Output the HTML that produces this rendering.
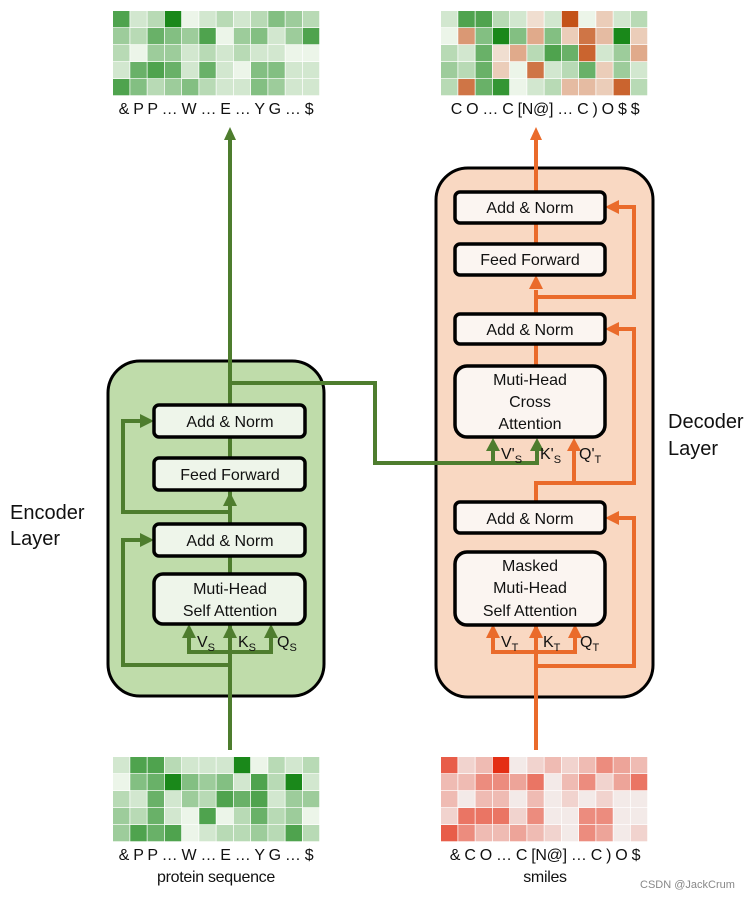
<!DOCTYPE html>
<html><head><meta charset="utf-8"><style>
html,body{margin:0;padding:0;background:#fff}
svg{display:block}
text{font-family:"Liberation Sans",Arial,sans-serif;fill:#111}
</style></head><body>
<svg id="s" width="756" height="898" viewBox="0 0 756 898" xmlns="http://www.w3.org/2000/svg">
<g id="hm"></g>
<rect x="108" y="361" width="216" height="335" rx="32" fill="#bfdcaa" stroke="#000" stroke-width="3"/>
<rect x="436" y="168" width="217" height="529" rx="32" fill="#f9d8c2" stroke="#000" stroke-width="3"/>

<g fill="none" stroke="#4e7d2e" stroke-width="4">
<path d="M230 750 V140"/>
<path d="M230 665 H123 V540 H140"/>
<path d="M230 512 H123 V421 H140"/>
<path d="M189 637 V652 H271 V637"/>
<path d="M230 383 H375 V463 H537 V450"/>
<path d="M493 463 V450"/>
</g>
<g fill="#4e7d2e">
<polygon points="224,140 236,140 230,127"/>
<polygon points="140,414 140,428 154,421"/>
<polygon points="140,533 140,547 154,540"/>
<polygon points="223,506 237,506 230,492"/>
<polygon points="182,638 196,638 189,624"/>
<polygon points="223,638 237,638 230,624"/>
<polygon points="264,638 278,638 271,624"/>
<polygon points="486,451 500,451 493,438"/>
<polygon points="530,451 544,451 537,438"/>
</g>

<g fill="none" stroke="#ea6b2b" stroke-width="4">
<path d="M536 750 V552"/>
<path d="M536 533 V483 H634 V329 H618"/>
<path d="M574 483 V450"/>
<path d="M536 366 V343"/>
<path d="M536 313 V290"/>
<path d="M536 297 H634 V207 H618"/>
<path d="M536 243 V223"/>
<path d="M536 191 V140"/>
<path d="M536 666 H634 V518 H618"/>
<path d="M493 637 V652 H575 V637"/>
</g>
<g fill="#ea6b2b">
<polygon points="530,140 542,140 536,127"/>
<polygon points="529,289 543,289 536,275"/>
<polygon points="619,200 619,214 605,207"/>
<polygon points="619,322 619,336 605,329"/>
<polygon points="619,511 619,525 605,518"/>
<polygon points="567,451 581,451 574,438"/>
<polygon points="486,638 500,638 493,624"/>
<polygon points="529,638 543,638 536,624"/>
<polygon points="568,638 582,638 575,624"/>
</g>

<g stroke="#000" stroke-width="3.5">
<rect x="154" y="405" width="151" height="32" rx="5" fill="#eef5ea"/>
<rect x="154" y="458" width="151" height="32" rx="5" fill="#eef5ea"/>
<rect x="154" y="524" width="151" height="32" rx="5" fill="#eef5ea"/>
<rect x="154" y="574" width="151" height="50" rx="9" fill="#eef5ea"/>
<rect x="455" y="192" width="150" height="31" rx="5" fill="#fbf5f1"/>
<rect x="455" y="244" width="150" height="31" rx="5" fill="#fbf5f1"/>
<rect x="455" y="314" width="150" height="30" rx="5" fill="#fbf5f1"/>
<rect x="455" y="366" width="150" height="71" rx="12" fill="#fbf5f1"/>
<rect x="455" y="502" width="150" height="31" rx="5" fill="#fbf5f1"/>
<rect x="455" y="552" width="150" height="73" rx="12" fill="#fbf5f1"/>
</g>
<g font-size="16" text-anchor="middle">
<text x="230" y="427">Add &amp; Norm</text>
<text x="230" y="480">Feed Forward</text>
<text x="230" y="546">Add &amp; Norm</text>
<text x="230" y="594">Muti-Head</text>
<text x="230" y="616">Self Attention</text>
<text x="530" y="213">Add &amp; Norm</text>
<text x="530" y="265">Feed Forward</text>
<text x="530" y="335">Add &amp; Norm</text>
<text x="530" y="385">Muti-Head</text>
<text x="530" y="407">Cross</text>
<text x="530" y="429">Attention</text>
<text x="530" y="524">Add &amp; Norm</text>
<text x="530" y="571">Masked</text>
<text x="530" y="593">Muti-Head</text>
<text x="530" y="616">Self Attention</text>
</g>
<g font-size="16">
<text x="197" y="647">V<tspan font-size="11" dy="4">S</tspan></text>
<text x="238" y="647">K<tspan font-size="11" dy="4">S</tspan></text>
<text x="277" y="647">Q<tspan font-size="11" dy="4">S</tspan></text>
<text x="501" y="647">V<tspan font-size="11" dy="4">T</tspan></text>
<text x="543" y="647">K<tspan font-size="11" dy="4">T</tspan></text>
<text x="580" y="647">Q<tspan font-size="11" dy="4">T</tspan></text>
<text x="501" y="459">V'<tspan font-size="11" dy="4">S</tspan></text>
<text x="540" y="459">K'<tspan font-size="11" dy="4">S</tspan></text>
<text x="579" y="459">Q'<tspan font-size="11" dy="4">T</tspan></text>
</g>
<g font-size="20">
<text x="10" y="519">Encoder</text>
<text x="10" y="545">Layer</text>
<text x="668" y="428">Decoder</text>
<text x="668" y="455">Layer</text>
</g>
<g font-size="16" text-anchor="middle" letter-spacing="-0.3">
<text x="216" y="114">&amp; P P … W … E …  Y G  … $</text>
<text x="545" y="114">C O … C [N@] … C ) O $ $</text>
<text x="216" y="860">&amp; P P … W … E …  Y G  … $</text>
<text x="216" y="882">protein sequence</text>
<text x="545" y="860">&amp; C O … C [N@] … C ) O $</text>
<text x="545" y="882">smiles</text>
</g>
<text x="640" y="888" font-size="11" style="fill:#888">CSDN @JackCrum</text>
</svg>
<script>
(function(){
var g=document.getElementById('hm');var ns='http://www.w3.org/2000/svg';
function lerp(a,b,t){return Math.round(a+(b-a)*t);}
function col(scale,v){var c0,c1;
 if(scale=='g'){c0=[236,245,233];c1=[26,136,26];}
 else if(scale=='o'){c0=[240,222,208];c1=[196,82,24];}
 else {c0=[243,234,232];c1=[228,46,20];}
 var t=(v-1)/8;return 'rgb('+lerp(c0[0],c1[0],t)+','+lerp(c0[1],c1[1],t)+','+lerp(c0[2],c1[2],t)+')';}
function draw(x,y,data,scale){
 for(var r=0;r<5;r++){for(var c=0;c<12;c++){var d=data[r][c],sc=scale,v=d;
  if(typeof d=='string'){sc=d[0];v=+d.slice(1);}
  var e=document.createElementNS(ns,'rect');
  e.setAttribute('x',x+c*17.25);e.setAttribute('y',y+r*17);
  e.setAttribute('width',16.5);e.setAttribute('height',16.3);
  e.setAttribute('fill',col(sc,v));g.appendChild(e);}}}
draw(113,11,[[7,2,3,9,1,2,3,2,3,5,4,3],[4,3,6,5,4,7,1,4,5,2,4,7],[3,1,4,4,2,3,2,3,2,2,1,1],[2,6,7,6,2,6,2,1,5,5,2,2],[7,5,3,4,5,3,2,2,5,4,2,2]],'g');
draw(441,11,[['g2','g7','g7','g3','g2','o1','g2','o9','g1','o2','g2','g3'],['g1','o5','g5','g9','g5','o4','g5','o2','o7','o3','g9','o2'],['g3','g2','g6','o1','o4','g3','g7','g6','o8','g2','g4','o4'],['g4','g3','g6','o2','g1','o7','g2','g3','g6','o2','g4','g2'],['g3','o7','g6','g8','g1','g2','g3','o3','o3','o2','o8','g3']],'g');
draw(113,757,[[2,7,7,3,2,2,2,9,1,3,2,3],[1,5,6,9,5,4,5,2,7,3,9,2],[3,2,6,2,4,3,7,6,7,2,4,4],[4,3,6,2,1,7,1,3,6,3,4,1],[4,7,6,7,1,2,3,3,4,3,7,3]],'g');
draw(441,757,[[7,2,3,9,1,2,3,2,3,5,4,3],[3,3,5,5,4,6,1,3,5,2,4,6],[3,1,3,3,1,3,1,2,1,2,1,1],[2,6,6,6,2,5,1,1,5,5,1,1],[7,5,3,3,4,3,2,1,5,4,1,2]],'r');
})();
</script>
</body></html>
